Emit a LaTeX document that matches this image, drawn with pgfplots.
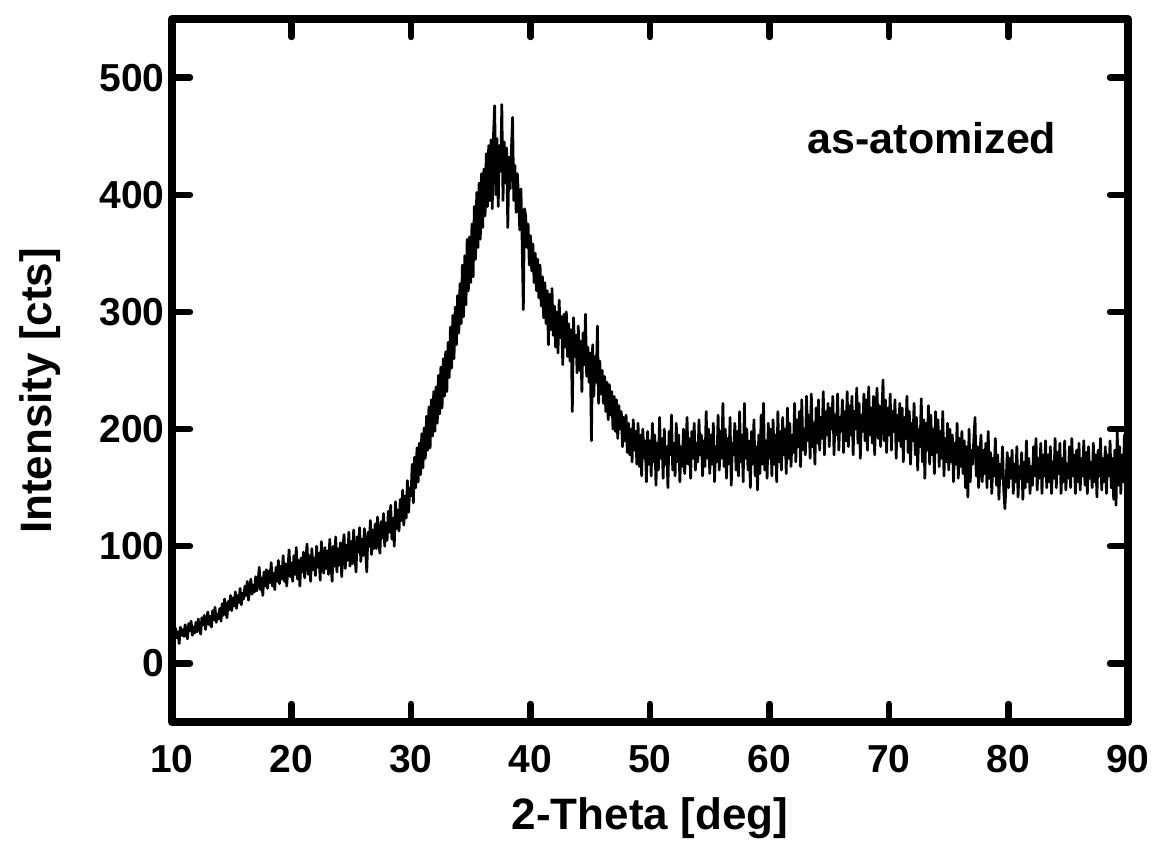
\documentclass[border=0pt]{standalone}
\usepackage{fontspec}
\setmainfont{Liberation Sans}
\usepackage{pgfplots}
\pgfplotsset{compat=1.18}
\begin{document}
\begin{tikzpicture}
\begin{axis}[
  at={(0,0)}, anchor=south west,
  scale only axis, width=478pt, height=351.5pt,
  xmin=10, xmax=90, ymin=-50, ymax=550,
  xtick={10,20,...,90}, ytick={0,100,...,500},
  tick align=inside, major tick length=9pt,
  tick style={line width=3.2pt, line cap=round, black},
  axis line style={line width=4pt, line join=round, line cap=round},
  /pgf/number format/assume math mode=true,
  xticklabel style={font=\fontsize{19.5}{22}\selectfont\bfseries, anchor=north, inner sep=0pt, yshift=-11.5pt},
  yticklabel style={font=\fontsize{19.5}{22}\selectfont\bfseries, anchor=east, inner sep=0pt, xshift=-3.5pt},
  xlabel={2-Theta [deg]}, ylabel={Intensity [cts]},
  xlabel style={font=\fontsize{22}{26}\selectfont\bfseries, at={(axis description cs:0.5,-0.137)}, anchor=center},
  ylabel style={font=\fontsize{22}{26}\selectfont\bfseries, at={(axis description cs:-0.138,0.471)}, anchor=center, rotate=0},
  clip=true,
]
\addplot[black, line width=1.35pt, line join=round] coordinates {
(10.0,20)(10.1,28)(10.2,18)(10.3,30)(10.4,22)(10.5,27)(10.6,17)(10.7,31)(10.8,24)(10.9,29)
(11.0,23)(11.1,33)(11.2,26)(11.3,21)(11.4,34)(11.5,28)(11.6,36)(11.7,24)(11.8,31)(11.9,26)
(12.0,35)(12.1,27)(12.2,38)(12.3,30)(12.4,25)(12.5,39)(12.6,33)(12.7,41)(12.8,29)(12.9,36)
(13.0,44)(13.1,33)(13.2,40)(13.3,31)(13.4,45)(13.5,37)(13.6,48)(13.7,35)(13.8,42)(13.9,38)
(14.0,47)(14.1,36)(14.2,51)(14.3,41)(14.4,55)(14.5,44)(14.6,39)(14.7,53)(14.8,46)(14.9,58)
(15.0,45)(15.1,56)(15.2,49)(15.3,61)(15.4,47)(15.5,58)(15.6,52)(15.7,64)(15.8,50)(15.9,60)
(16.0,55)(16.1,66)(16.2,58)(16.3,70)(16.4,54)(16.5,63)(16.6,72)(16.7,59)(16.8,67)(16.9,61)
(17.0,74)(17.1,62)(17.2,69)(17.3,82)(17.4,63)(17.5,73)(17.6,58)(17.7,78)(17.8,66)(17.9,80)
(18.0,64)(18.1,79)(18.2,69)(18.3,86)(18.4,66)(18.5,77)(18.6,63)(18.7,82)(18.8,70)(18.9,88)
(19.0,68)(19.1,83)(19.2,72)(19.3,92)(19.4,70)(19.5,85)(19.6,66)(19.7,81)(19.8,97)(19.9,74)
(20.0,86)(20.1,70)(20.2,92)(20.3,76)(20.4,99)(20.5,72)(20.6,88)(20.7,66)(20.8,90)(20.9,78)
(21.0,95)(21.1,73)(21.2,88)(21.3,102)(21.4,76)(21.5,92)(21.6,70)(21.7,98)(21.8,80)(21.9,90)
(22.0,75)(22.1,100)(22.2,82)(22.3,94)(22.4,71)(22.5,104)(22.6,84)(22.7,77)(22.8,99)(22.9,81)
(23.0,96)(23.1,76)(23.2,106)(23.3,86)(23.4,70)(23.5,100)(23.6,83)(23.7,108)(23.8,78)(23.9,98)
(24.0,84)(24.1,103)(24.2,74)(24.3,99)(24.4,110)(24.5,81)(24.6,101)(24.7,88)(24.8,112)(24.9,83)
(25.0,104)(25.1,85)(25.2,114)(25.3,92)(25.4,78)(25.5,108)(25.6,95)(25.7,116)(25.8,87)(25.9,106)
(26.0,92)(26.1,115)(26.2,97)(26.3,78)(26.4,112)(26.5,100)(26.6,122)(26.7,93)(26.8,114)(26.9,98)
(27.0,119)(27.1,98)(27.2,125)(27.3,104)(27.4,94)(27.5,121)(27.6,107)(27.7,128)(27.8,100)(27.9,120)
(28.0,105)(28.1,130)(28.2,112)(28.3,135)(28.4,106)(28.5,124)(28.6,100)(28.7,138)(28.8,115)(28.9,131)
(29.0,113)(29.1,140)(29.2,122)(29.3,148)(29.4,118)(29.5,143)(29.6,124)(29.7,156)(29.8,129)(29.9,150)
(30.0,143)(30.1,170)(30.2,137)(30.3,176)(30.4,150)(30.5,184)(30.6,155)(30.7,188)(30.8,161)(30.9,196)
(31.0,167)(31.1,201)(31.2,175)(31.3,211)(31.4,182)(31.5,219)(31.6,184)(31.7,225)(31.8,194)(31.9,232)
(32.0,198)(32.1,236)(32.2,205)(32.3,246)(32.4,213)(32.5,253)(32.6,218)(32.7,260)(32.8,228)(32.9,266)
(33.0,232)(33.1,274)(33.2,244)(33.3,287)(33.4,252)(33.5,297)(33.6,260)(33.7,304)(33.8,272)(33.9,314)
(34.0,282)(34.1,324)(34.2,290)(34.3,340)(34.4,296)(34.5,348)(34.6,306)(34.7,362)(34.8,318)(34.9,364)
(35.0,325)(35.1,375)(35.2,330)(35.3,390)(35.4,345)(35.5,402)(35.6,355)(35.7,410)(35.8,362)(35.9,418)
(36.0,372)(36.1,422)(36.2,382)(36.3,435)(36.4,390)(36.5,442)(36.6,395)(36.7,447)(36.8,388)(36.9,450)
(37.0,476)(37.1,400)(37.2,448)(37.3,390)(37.4,442)(37.5,420)(37.6,477)(37.7,395)(37.8,445)(37.9,410)
(38.0,440)(38.1,372)(38.2,432)(38.3,405)(38.4,438)(38.5,466)(38.6,395)(38.7,425)(38.8,385)(38.9,418)
(39.0,398)(39.1,370)(39.2,405)(39.3,360)(39.4,302)(39.5,388)(39.6,382)(39.7,355)(39.8,375)(39.9,340)
(40.0,365)(40.1,335)(40.2,358)(40.3,325)(40.4,350)(40.5,318)(40.6,345)(40.7,312)(40.8,340)(40.9,305)
(41.0,330)(41.1,295)(41.2,325)(41.3,290)(41.4,318)(41.5,272)(41.6,315)(41.7,285)(41.8,320)(41.9,280)
(42.0,305)(42.1,270)(42.2,300)(42.3,265)(42.4,310)(42.5,278)(42.6,296)(42.7,255)(42.8,298)(42.9,270)
(43.0,300)(43.1,262)(43.2,290)(43.3,258)(43.4,285)(43.5,215)(43.6,295)(43.7,262)(43.8,280)(43.9,248)
(44.0,288)(44.1,250)(44.2,275)(44.3,232)(44.4,282)(44.5,255)(44.6,298)(44.7,245)(44.8,270)(44.9,240)
(45.0,265)(45.1,190)(45.2,272)(45.3,228)(45.4,262)(45.5,240)(45.6,288)(45.7,222)(45.8,258)(45.9,230)
(46.0,250)(46.1,222)(46.2,245)(46.3,215)(46.4,240)(46.5,208)(46.6,238)(46.7,212)(46.8,232)(46.9,200)
(47.0,228)(47.1,198)(47.2,225)(47.3,192)(47.4,220)(47.5,200)(47.6,215)(47.7,185)(47.8,210)(47.9,190)
(48.0,212)(48.1,180)(48.2,205)(48.3,178)(48.4,200)(48.5,172)(48.6,208)(48.7,182)(48.8,198)(48.9,170)
(49.0,205)(49.1,168)(49.2,195)(49.3,160)(49.4,200)(49.5,175)(49.6,190)(49.7,155)(49.8,198)(49.9,170)
(50.0,190)(50.1,160)(50.2,205)(50.3,172)(50.4,195)(50.5,152)(50.6,188)(50.7,165)(50.8,210)(50.9,175)
(51.0,192)(51.1,158)(51.2,200)(51.3,170)(51.4,185)(51.5,150)(51.6,198)(51.7,178)(51.8,212)(51.9,165)
(52.0,188)(52.1,160)(52.2,205)(52.3,172)(52.4,195)(52.5,155)(52.6,185)(52.7,168)(52.8,200)(52.9,162)
(53.0,180)(53.1,210)(53.2,170)(53.3,192)(53.4,158)(53.5,198)(53.6,175)(53.7,205)(53.8,165)(53.9,188)
(54.0,172)(54.1,208)(54.2,178)(54.3,195)(54.4,160)(54.5,190)(54.6,168)(54.7,215)(54.8,175)(54.9,200)
(55.0,162)(55.1,195)(55.2,170)(55.3,205)(55.4,155)(55.5,185)(55.6,172)(55.7,212)(55.8,165)(55.9,198)
(56.0,175)(56.1,222)(56.2,168)(56.3,200)(56.4,158)(56.5,192)(56.6,170)(56.7,210)(56.8,152)(56.9,188)
(57.0,178)(57.1,205)(57.2,165)(57.3,198)(57.4,160)(57.5,215)(57.6,172)(57.7,195)(57.8,155)(57.9,222)
(58.0,175)(58.1,200)(58.2,165)(58.3,190)(58.4,150)(58.5,198)(58.6,170)(58.7,208)(58.8,160)(58.9,185)
(59.0,148)(59.1,195)(59.2,162)(59.3,212)(59.4,170)(59.5,222)(59.6,165)(59.7,190)(59.8,158)(59.9,205)
(60.0,175)(60.1,200)(60.2,160)(60.3,208)(60.4,170)(60.5,195)(60.6,155)(60.7,215)(60.8,172)(60.9,198)
(61.0,165)(61.1,210)(61.2,178)(61.3,200)(61.4,162)(61.5,218)(61.6,175)(61.7,205)(61.8,168)(61.9,195)
(62.0,180)(62.1,222)(62.2,172)(62.3,208)(62.4,185)(62.5,215)(62.6,168)(62.7,225)(62.8,182)(62.9,200)
(63.0,178)(63.1,228)(63.2,190)(63.3,212)(63.4,175)(63.5,230)(63.6,185)(63.7,205)(63.8,170)(63.9,218)
(64.0,188)(64.1,225)(64.2,182)(64.3,210)(64.4,192)(64.5,232)(64.6,178)(64.7,215)(64.8,195)(64.9,222)
(65.0,185)(65.1,218)(65.2,200)(65.3,228)(65.4,178)(65.5,212)(65.6,195)(65.7,230)(65.8,182)(65.9,210)
(66.0,198)(66.1,225)(66.2,180)(66.3,215)(66.4,190)(66.5,232)(66.6,185)(66.7,220)(66.8,195)(66.9,228)
(67.0,178)(67.1,215)(67.2,200)(67.3,235)(67.4,188)(67.5,222)(67.6,175)(67.7,212)(67.8,198)(67.9,230)
(68.0,190)(68.1,225)(68.2,182)(68.3,236)(68.4,195)(68.5,218)(68.6,188)(68.7,228)(68.8,178)(68.9,215)
(69.0,235)(69.1,192)(69.2,220)(69.3,185)(69.4,212)(69.5,242)(69.6,190)(69.7,225)(69.8,180)(69.9,218)
(70.0,195)(70.1,230)(70.2,182)(70.3,215)(70.4,198)(70.5,225)(70.6,175)(70.7,212)(70.8,190)(70.9,222)
(71.0,185)(71.1,218)(71.2,172)(71.3,210)(71.4,192)(71.5,228)(71.6,180)(71.7,215)(71.8,170)(71.9,205)
(72.0,190)(72.1,222)(72.2,178)(72.3,210)(72.4,165)(72.5,200)(72.6,185)(72.7,226)(72.8,172)(72.9,208)
(73.0,158)(73.1,205)(73.2,182)(73.3,220)(73.4,170)(73.5,212)(73.6,178)(73.7,200)(73.8,162)(73.9,215)
(74.0,180)(74.1,208)(74.2,168)(74.3,198)(74.4,175)(74.5,215)(74.6,160)(74.7,192)(74.8,172)(74.9,205)
(75.0,165)(75.1,200)(75.2,172)(75.3,195)(75.4,155)(75.5,188)(75.6,170)(75.7,205)(75.8,158)(75.9,192)
(76.0,168)(76.1,198)(76.2,162)(76.3,190)(76.4,150)(76.5,185)(76.6,142)(76.7,200)(76.8,155)(76.9,182)
(77.0,170)(77.1,192)(77.2,210)(77.3,160)(77.4,185)(77.5,150)(77.6,178)(77.7,195)(77.8,155)(77.9,182)
(78.0,162)(78.1,188)(78.2,150)(78.3,198)(78.4,158)(78.5,180)(78.6,145)(78.7,175)(78.8,160)(78.9,192)
(79.0,152)(79.1,178)(79.2,140)(79.3,170)(79.4,158)(79.5,185)(79.6,148)(79.7,132)(79.8,155)(79.9,180)
(80.0,150)(80.1,175)(80.2,158)(80.3,182)(80.4,145)(80.5,170)(80.6,155)(80.7,185)(80.8,142)(80.9,168)
(81.0,158)(81.1,180)(81.2,140)(81.3,172)(81.4,150)(81.5,190)(81.6,155)(81.7,175)(81.8,145)(81.9,168)
(82.0,152)(82.1,185)(82.2,160)(82.3,192)(82.4,148)(82.5,175)(82.6,158)(82.7,188)(82.8,145)(82.9,178)
(83.0,160)(83.1,190)(83.2,150)(83.3,178)(83.4,155)(83.5,185)(83.6,145)(83.7,172)(83.8,158)(83.9,192)
(84.0,150)(84.1,180)(84.2,162)(84.3,188)(84.4,145)(84.5,175)(84.6,155)(84.7,190)(84.8,148)(84.9,170)
(85.0,158)(85.1,185)(85.2,150)(85.3,192)(85.4,160)(85.5,178)(85.6,145)(85.7,182)(85.8,155)(85.9,188)
(86.0,148)(86.1,175)(86.2,160)(86.3,190)(86.4,152)(86.5,180)(86.6,145)(86.7,185)(86.8,158)(86.9,172)
(87.0,150)(87.1,188)(87.2,155)(87.3,178)(87.4,142)(87.5,182)(87.6,160)(87.7,192)(87.8,148)(87.9,175)
(88.0,155)(88.1,185)(88.2,145)(88.3,178)(88.4,160)(88.5,190)(88.6,150)(88.7,175)(88.8,140)(88.9,182)
(89.0,135)(89.1,198)(89.2,152)(89.3,185)(89.4,145)(89.5,178)(89.6,155)(89.7,195)(89.8,140)(89.9,180)
(90.0,160)
};
\node[font=\fontsize{21.5}{25}\selectfont\bfseries, anchor=center] at (axis cs:73.6,448) {as-atomized};
\end{axis}
\pgfresetboundingbox
\path[use as bounding box] (-86pt,-63pt) rectangle (491.5pt,361pt);
\end{tikzpicture}
\end{document}
